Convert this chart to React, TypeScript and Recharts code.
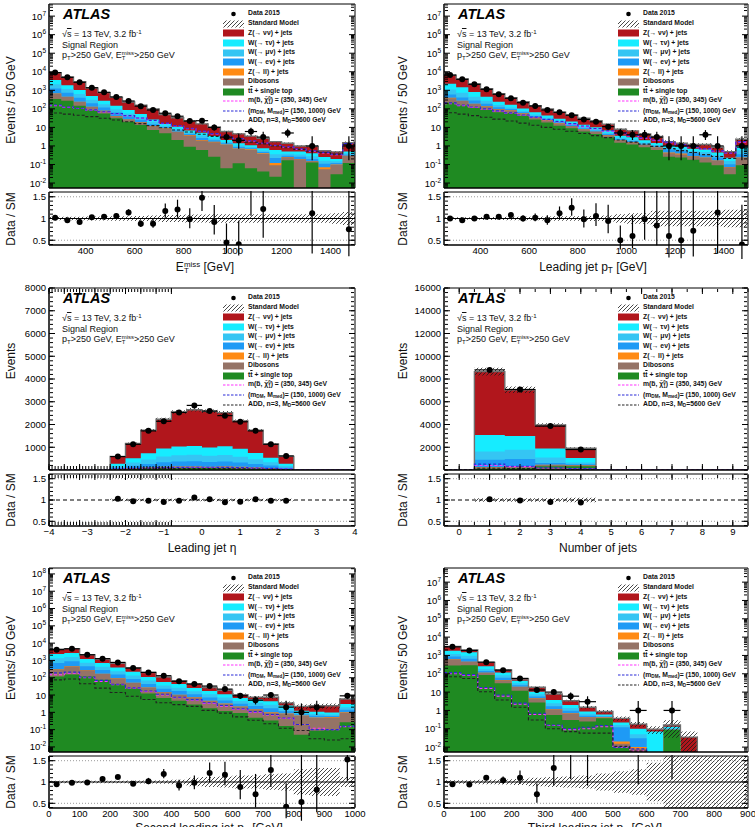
import React from "react";
import { ComposedChart, Area, Line, Scatter, XAxis, YAxis, ErrorBar, ReferenceLine } from "recharts";

const FONT = '"Liberation Sans", Arial, Helvetica, sans-serif';
const Y_W = 48;

const COL_TOP = "#1f8a22";
const COL_DIB = "#957366";
const COL_ZLL = "#ff8a14";
const COL_WEV = "#1e9af5";
const COL_WMV = "#35c5f3";
const COL_WTV = "#16ecff";
const COL_ZVV = "#b1161c";
const STACK_COLORS = [COL_TOP, COL_DIB, COL_ZLL, COL_WEV, COL_WMV, COL_WTV, COL_ZVV];
const SIG_COLORS = ["#ff33ff", "#2a2ad8", "#222222"];

// ---------- E_T^miss ----------
const metEdges = [250, 300, 350, 400, 450, 500, 550, 600, 650, 700, 750, 800, 850, 900, 950, 1000, 1050, 1100, 1150, 1200, 1250, 1300, 1350, 1400, 1450, 1500];
const metCounts = [9000, 5000, 2700, 1380, 780, 440, 265, 140, 87, 58, 40, 22, 23, 10, 3, 2, 6, 3, 0, 5, 0, 1, 0, 0, 1];
const metRatio = [1.02, 0.96, 0.92, 1.03, 1.04, 1.06, 1.14, 0.88, 0.88, 1.17, 1.21, 0.98, 1.48, 0.92, 0.45, 0.41, 1.76, 1.22, null, 3.6, null, 1.12, null, null, 0.75];
const metBand = [0.04, 0.04, 0.04, 0.045, 0.045, 0.05, 0.05, 0.06, 0.07, 0.08, 0.08, 0.09, 0.09, 0.1, 0.1, 0.1, 0.1, 0.1, 0.1, 0.1, 0.1, 0.1, 0.1, 0.12, 0.15];
const metTop = [340, 275, 149, 85, 57, 31, 20, 13.4, 7.3, 4.8, 2.1, 0.9, 0.6, 0.26, 0.063, 0.115, 0.063, 0.042, 0.022, 0.17, 0, 0.13, 0, 0.03, 0.12];
const metDib = [313, 166, 88, 42, 21, 9.2, 6.4, 5.6, 4.1, 3.8, 3.5, 2.76, 1.38, 1.32, 1.05, 0.57, 0.55, 0.33, 0.07, 0.074, 0.19, 0.018, 0.055, 0.065, 0.17];
const metZll = [27, 14, 8, 4, 2, 0.8, 0.6, 0.5, 0.4, 0.33, 0.3, 0.24, 0.12, 0.12, 0.09, 0.05, 0.05, 0.03, 0.03, 0.006, 0.01, 0.002, 0.015, 0.005, 0.01];
const metWev = [574, 289, 157, 72, 39, 22, 12, 6.7, 3.0, 1.3, 1.0, 0.56, 0.62, 0.34, 0.18, 0.13, 0.09, 0.07, 0.1, 0.05, 0.06, 0.05, 0.04, 0.02, 0.04];
const metWmv = [861, 433, 236, 108, 58, 32, 18, 10, 4.6, 1.9, 1.5, 0.84, 0.93, 0.51, 0.27, 0.2, 0.13, 0.1, 0.14, 0.08, 0.09, 0.08, 0.05, 0.03, 0.06];
const metWtv = [1435, 722, 392, 180, 98, 54, 30, 16.8, 7.6, 3.2, 2.5, 1.4, 1.55, 0.85, 0.45, 0.33, 0.22, 0.17, 0.24, 0.12, 0.15, 0.12, 0.09, 0.05, 0.1];
const metZvv = [5250, 3300, 1870, 850, 475, 266, 145, 106, 72, 34.7, 22.1, 15.7, 10.3, 7.0, 3.9, 3.1, 2.3, 1.86, 1.1, 0.9, 0.5, 0.55, 0.3, 0.28, 1.0];
const metSbottom = [150, 120, 105, 85, 68, 55, 42, 31, 23, 16, 12, 8.5, 6, 4.4, 3.2, 2.4, 1.8, 1.4, 1.05, 0.85, 0.65, 0.52, 0.42, 0.34, 1.3];
const metDM = [160, 125, 108, 88, 70, 56, 43, 32, 24, 17, 12.5, 9, 6.3, 4.6, 3.3, 2.5, 1.9, 1.45, 1.1, 0.9, 0.7, 0.55, 0.45, 0.36, 1.35];
const metADD = [60, 52, 45, 38, 31, 25, 20, 16, 12.5, 9.5, 7.3, 5.6, 4.3, 3.3, 2.6, 2.0, 1.6, 1.3, 1.0, 0.8, 0.65, 0.52, 0.43, 0.36, 1.2];

// ---------- leading jet pT ----------
const ptEdges = [250, 300, 350, 400, 450, 500, 550, 600, 650, 700, 750, 800, 850, 900, 950, 1000, 1050, 1100, 1150, 1200, 1250, 1300, 1350, 1400, 1450, 1500];
const ptCounts = [6600, 3900, 2100, 1130, 610, 370, 215, 142, 87, 65, 45, 27, 20, 11, 5, 4, 4, 3, 1, 1, 1, 4, 1, 0, 1];
const ptRatio = [1.0, 0.96, 1.0, 1.04, 1.04, 1.08, 1.0, 1.02, 0.96, 1.12, 1.25, 0.98, 1.06, 0.94, 0.5, 0.6, 0.98, 0.84, 0.6, 0.5, 0.72, 3.3, 1.14, null, 0.4];
const ptBand = [0.03, 0.03, 0.03, 0.035, 0.035, 0.04, 0.04, 0.04, 0.045, 0.05, 0.05, 0.05, 0.06, 0.07, 0.1, 0.12, 0.12, 0.18, 0.18, 0.18, 0.18, 0.18, 0.18, 0.2, 0.2];
const ptTop = [211, 151, 110, 86, 66, 60, 42, 27, 18.6, 12.4, 9, 6, 4.4, 2.9, 1.5, 1.2, 0.84, 0.6, 0.26, 0.24, 0.18, 0.13, 0.09, 0.03, 0.09];
const ptDib = [165, 114, 70, 47, 30, 22, 14, 9, 6, 4, 2.8, 1.9, 1.4, 0.9, 0.5, 0.4, 0.3, 0.22, 0.14, 0.11, 0.1, 0.1, 0.07, 0.04, 0.14];
const ptZll = [20, 12, 8, 5, 3, 2, 1.2, 0.7, 0.5, 0.3, 0.2, 0.15, 0.1, 0.07, 0.04, 0.03, 0.02, 0.015, 0.05, 0.04, 0.01, 0.01, 0.005, 0.003, 0.01];
const ptWev = [205, 134, 92, 50, 23, 13, 7.8, 4.6, 3.0, 2.0, 1.4, 0.95, 0.7, 0.48, 0.25, 0.21, 0.14, 0.105, 0.2, 0.17, 0.13, 0.11, 0.07, 0.03, 0.12];
const ptWmv = [508, 326, 170, 87, 41, 23, 13.5, 8.2, 5.4, 3.5, 2.6, 1.7, 1.3, 0.8, 0.45, 0.36, 0.24, 0.17, 0.17, 0.14, 0.12, 0.12, 0.085, 0.05, 0.23];
const ptWtv = [1168, 724, 350, 175, 82, 45, 26.5, 15.5, 10.5, 6.8, 5, 3.3, 2.4, 1.55, 0.86, 0.7, 0.46, 0.34, 0.24, 0.2, 0.17, 0.17, 0.12, 0.08, 0.39];
const ptZvv = [4323, 2609, 1400, 780, 415, 235, 140, 83, 54, 36, 26, 17, 12.7, 8.3, 4.3, 3.6, 2.4, 1.75, 0.64, 0.5, 0.49, 0.56, 0.41, 0.26, 1.32];
const ptSbottom = [190, 150, 118, 95, 75, 58, 45, 34, 26, 20, 15, 11, 8.3, 6.2, 4.6, 3.5, 2.6, 2.0, 1.5, 1.15, 0.88, 0.68, 0.52, 0.4, 1.6];
const ptDM = [210, 160, 125, 100, 78, 61, 47, 36, 27, 21, 16, 12, 8.8, 6.6, 4.9, 3.7, 2.8, 2.1, 1.6, 1.2, 0.92, 0.7, 0.54, 0.42, 1.7];
const ptADD = [62, 52, 43, 35, 28, 22, 17, 13, 10, 8, 6.2, 4.7, 3.6, 2.8, 2.1, 1.6, 1.25, 0.95, 0.72, 0.56, 0.44, 0.34, 0.27, 0.21, 0.85];

// ---------- leading jet eta ----------
const etaEdges = [-4, -3.6, -3.2, -2.8, -2.4, -2, -1.6, -1.2, -0.8, -0.4, 0, 0.4, 0.8, 1.2, 1.6, 2, 2.4, 2.8, 3.2, 3.6, 4];
const etaCounts = [0, 0, 0, 0, 590, 1130, 1720, 2140, 2530, 2840, 2590, 2390, 2120, 1720, 1130, 620, 0, 0, 0, 0];
const etaRatio = [null, null, null, null, 1.03, 0.97, 0.985, 0.955, 0.98, 1.06, 1.015, 0.95, 0.96, 1.015, 0.985, 0.985, null, null, null, null];
const etaBand = [0, 0, 0, 0, 0.03, 0.03, 0.03, 0.03, 0.03, 0.03, 0.03, 0.03, 0.03, 0.03, 0.03, 0.03, 0, 0, 0, 0];
const etaTop = [0, 0, 0, 0, 23, 45, 63, 80, 88, 90, 84, 89, 79, 63, 46, 23, 0, 0, 0, 0];
const etaDib = [0, 0, 0, 0, 14, 26, 37, 47, 52, 53, 49, 52, 47, 38, 27, 14, 0, 0, 0, 0];
const etaZll = [0, 0, 0, 0, 4, 8, 11, 14, 15, 16, 15, 16, 14, 11, 8, 4, 0, 0, 0, 0];
const etaWev = [0, 0, 0, 0, 58, 109, 155, 197, 216, 223, 207, 219, 195, 157, 112, 58, 0, 0, 0, 0];
const etaWmv = [0, 0, 0, 0, 74, 140, 200, 254, 278, 286, 266, 282, 251, 203, 144, 74, 0, 0, 0, 0];
const etaWtv = [0, 0, 0, 0, 102, 192, 274, 348, 381, 392, 364, 387, 344, 278, 198, 102, 0, 0, 0, 0];
const etaZvv = [0, 0, 0, 0, 325, 650, 1010, 1290, 1520, 1590, 1595, 1475, 1230, 1000, 610, 325, 0, 0, 0, 0];
const etaSbottom = [0, 0, 0, 0, 40, 60, 80, 95, 105, 110, 110, 105, 95, 80, 60, 40, 0, 0, 0, 0];
const etaDM = [0, 0, 0, 0, 45, 70, 90, 105, 115, 120, 120, 115, 105, 90, 70, 45, 0, 0, 0, 0];
const etaADD = [0, 0, 0, 0, 25, 35, 45, 55, 60, 62, 62, 60, 55, 45, 35, 25, 0, 0, 0, 0];

// ---------- number of jets ----------
const njEdges = [-0.5, 0.5, 1.5, 2.5, 3.5, 4.5, 5.5, 6.5, 7.5, 8.5, 9.5];
const njCounts = [0, 8800, 7080, 3860, 1800, 0, 0, 0, 0, 0];
const njRatio = [null, 1.02, 0.99, 0.955, 0.94, null, null, null, null, null];
const njBand = [0, 0.04, 0.04, 0.04, 0.05, 0, 0, 0, 0, 0];
const njTop = [0, 120, 160, 330, 330, 0, 0, 0, 0, 0];
const njDib = [0, 100, 120, 110, 80, 0, 0, 0, 0, 0];
const njZll = [0, 30, 30, 15, 15, 0, 0, 0, 0, 0];
const njWev = [0, 650, 648, 155, 75, 0, 0, 0, 0, 0];
const njWmv = [0, 725, 812, 490, 170, 0, 0, 0, 0, 0];
const njWtv = [0, 1455, 1220, 790, 375, 0, 0, 0, 0, 0];
const njZvv = [0, 5570, 4060, 2060, 870, 0, 0, 0, 0, 0];
const njSbottom = [0, 400, 300, 150, 80, 0, 0, 0, 0, 0];
const njDM = [0, 520, 330, 200, 120, 0, 0, 0, 0, 0];
const njADD = [0, 150, 120, 70, 40, 0, 0, 0, 0, 0];

// ---------- second leading jet pT ----------
const j2Edges = [0, 50, 100, 150, 200, 250, 300, 350, 400, 450, 500, 550, 600, 650, 700, 750, 800, 850, 900, 950, 1000];
const j2Counts = [4200, 4700, 2130, 1270, 770, 360, 204, 131, 62, 43, 33, 22, 9, 5, 10, 2, 1, 2, 0, 9];
const j2Ratio = [0.95, 0.98, 0.99, 1.07, 1.12, 0.96, 1.02, 1.19, 0.92, 0.98, 1.21, 1.17, 0.88, 0.71, 1.28, 0.42, 0.53, 0.82, null, 1.53];
const j2Band = [0.03, 0.03, 0.03, 0.03, 0.03, 0.035, 0.035, 0.04, 0.05, 0.1, 0.12, 0.13, 0.15, 0.15, 0.18, 0.2, 0.3, 0.33, 0.33, 0.12];
const j2Top = [117, 152, 116, 76, 44, 24, 12.3, 6.8, 4.7, 2.8, 1.7, 1.2, 0.92, 0.49, 0.34, 0.16, 0.05, 0.086, 0.1, 0.27];
const j2Dib = [180, 290, 154, 87, 47, 25.4, 13.8, 7.7, 5.45, 4.4, 2.73, 1.88, 1.2, 0.95, 0.62, 0.65, 0.57, 0.39, 0.4, 0.69];
const j2Zll = [11, 19, 10, 6, 3, 1.6, 0.9, 0.5, 0.35, 0.3, 0.17, 0.12, 0.08, 0.06, 0.04, 0.04, 0.04, 0.03, 0.03, 0.04];
const j2Wev = [411, 448, 186, 107, 59, 33, 17, 8.4, 6.5, 3.7, 2.6, 1.6, 0.9, 0.82, 0.7, 0.32, 0.12, 0.12, 0.09, 0.4];
const j2Wmv = [618, 671, 278, 159, 88, 51, 26, 12.6, 9.8, 5.5, 3.8, 2.4, 1.35, 1.23, 1.0, 0.48, 0.17, 0.17, 0.14, 0.6];
const j2Wtv = [1030, 1118, 464, 265, 147, 85, 42, 21, 16.2, 9.2, 6.3, 4.0, 2.25, 2.05, 1.7, 0.8, 0.29, 0.28, 0.23, 1.0];
const j2Zvv = [2033, 2102, 942, 490, 302, 155, 88, 53, 24, 18.1, 9.7, 7.8, 3.8, 2.0, 3.1, 1.05, 0.96, 1.32, 1.41, 2.9];
const j2Sbottom = [150, 180, 100, 62, 40, 25, 16, 10, 7, 5, 3.3, 2.3, 1.5, 1.0, 0.7, 0.45, 0.2, 0.12, 0.1, 0.15];
const j2DM = [190, 210, 110, 70, 42, 26, 17, 11, 7.5, 5.4, 3.6, 2.5, 1.6, 1.1, 0.75, 0.47, 0.2, 0.1, 0.1, 0.16];
const j2ADD = [75, 85, 45, 25, 14, 8.5, 5.5, 3.6, 2.8, 2.2, 1.3, 0.9, 0.55, 0.35, 0.22, 0.12, 0.09, 0.03, 0.025, 0.03];

// ---------- third leading jet pT ----------
const j3Edges = [0, 50, 100, 150, 200, 250, 300, 350, 400, 450, 500, 550, 600, 650, 700, 750, 800, 850, 900];
const j3Counts = [2950, 1870, 430, 158, 56, 13, 10, 6, 3, 0, 0, 1, 0, 1, 0, 0, 0, 0];
const j3Ratio = [0.95, 0.94, 1.1, 1.04, 1.1, 0.71, 1.33, 1.76, 2.0, null, null, 5.5, null, 6.2, null, null, null, null];
const j3Band = [0.04, 0.04, 0.05, 0.06, 0.07, 0.1, 0.12, 0.13, 0.15, 0.2, 0.25, 0.3, 0.45, 0.8, 1, 1, 1, 1];
const j3Top = [280, 295, 85, 30, 12, 2.7, 0.57, 0.3, 0.25, 0.37, 0.01, 0.005, 0, 0.087, 0, 0, 0, 0];
const j3Dib = [330, 155, 28, 15, 7.2, 1.8, 0.55, 0.37, 0.17, 0.045, 0.005, 0.003, 0, 0, 0, 0, 0, 0];
const j3Zll = [20, 10, 2, 1, 0.5, 0.1, 0.04, 0.03, 0.01, 0.005, 0.005, 0.002, 0, 0, 0, 0, 0, 0];
const j3Wev = [235, 205, 28, 15, 4.3, 1.2, 0.51, 0.26, 0.09, 0.04, 0.1, 0.02, 0, 0.008, 0, 0, 0, 0];
const j3Wmv = [350, 310, 42, 21, 6.5, 1.8, 0.76, 0.39, 0.13, 0.05, 0.04, 0.02, 0, 0.015, 0, 0, 0, 0];
const j3Wtv = [585, 515, 70, 35, 11, 3, 1.27, 0.65, 0.22, 0.09, 0.06, 0.05, 0.07, 0.02, 0, 0, 0, 0];
const j3Zvv = [1300, 500, 165, 43, 10.5, 7.7, 4.2, 1.4, 0.63, 0.27, 0.15, 0.08, 0.025, 0.03, 0.035, 0, 0, 0];
const j3Sbottom = [100, 80, 16, 6, 2.2, 0.6, 0.15, 0.09, 0.1, 0.13, 0.01, 0.006, 0, 0, 0, 0, 0, 0];
const j3DM = [115, 90, 18, 7, 2.5, 0.7, 0.16, 0.1, 0.12, 0.15, 0.01, 0.008, 0, 0, 0, 0, 0, 0];
const j3ADD = [69, 55, 10.5, 3.7, 1.5, 0.3, 0.1, 0.07, 0.058, 0.058, 0.011, 0.006, 0, 0, 0, 0, 0, 0];

// ---------- axis ticks ----------
const LOG_TICKS_7 = [0.01, 0.1, 1, 10, 100, 1e3, 1e4, 1e5, 1e6, 1e7];
const LOG_TICKS_8 = [0.01, 0.1, 1, 10, 100, 1e3, 1e4, 1e5, 1e6, 1e7, 1e8];
const RATIO_TICKS = [0.5, 1, 1.5];
const ETA_Y_TICKS = [1000, 2000, 3000, 4000, 5000, 6000, 7000, 8000];
const NJ_Y_TICKS = [2000, 4000, 6000, 8000, 10000, 12000, 14000, 16000];
const PT_X_TICKS = [400, 600, 800, 1000, 1200, 1400];
const ETA_X_TICKS = [-4, -3, -2, -1, 0, 1, 2, 3, 4];
const NJ_X_TICKS = [0, 1, 2, 3, 4, 5, 6, 7, 8, 9];
const J2_X_TICKS = [0, 100, 200, 300, 400, 500, 600, 700, 800, 900, 1000];
const J3_X_TICKS = [0, 100, 200, 300, 400, 500, 600, 700, 800, 900];
const RATIO_DOMAIN: [number, number] = [0.39, 1.61];

const logMinor = (lo: number, hi: number) => {
  const t: number[] = [];
  for (let e = -3; e <= 8; e++) for (let k = 2; k <= 9; k++) {
    const v = k * Math.pow(10, e);
    if (v > lo && v < hi) t.push(v);
  }
  return t;
};
const linMinor = (a: number, b: number, step: number) => {
  const t: number[] = [];
  const n = Math.round((b - a) / step);
  for (let i = 0; i <= n; i++) t.push(Math.round((a + i * step) * 1e6) / 1e6);
  return t;
};

const poisLo = (n: number) => n * Math.pow(1 - 1 / (9 * n) - 1 / (3 * Math.sqrt(n)), 3);
const poisHi = (n: number) => (n + 1) * Math.pow(1 - 1 / (9 * (n + 1)) + 1 / (3 * Math.sqrt(n + 1)), 3);

const Sub = ({ children }: any) => <span style={{ fontSize: "0.68em", verticalAlign: "-0.3em", lineHeight: 0 }}>{children}</span>;
const Sup = ({ children }: any) => <span style={{ fontSize: "0.68em", verticalAlign: "0.55em", lineHeight: 0 }}>{children}</span>;
const SubSup = ({ sup, sub }: any) => (
  <span style={{ display: "inline-block", verticalAlign: "-0.3em", fontSize: "0.66em", lineHeight: 0.85 }}>
    <span style={{ display: "block" }}>{sup}</span>
    <span style={{ display: "block" }}>{sub}</span>
  </span>
);
const Etmiss = () => <>E<SubSup sup="miss" sub="T" /></>;

type Spec = {
  key: string;
  left: number;
  plotW: number;
  mainTop: number;
  mainH: number;
  ratioTop: number;
  ratioH: number;
  legendX: number;
  edges: number[];
  stack: number[][];
  counts: number[];
  ratio: (number | null)[];
  band: number[];
  signals: number[][];
  log: boolean;
  yDomain: [number, number];
  yTicks: number[];
  yMinor: number[];
  xDomain: [number, number];
  xTicks: number[];
  xMinor: number[];
  xShift: number; // internal offset so the plotted x axis starts at a non-negative value
  xTitle: React.ReactNode;
  xTitleX: number;
  xTitleY: number;
  yTitle: string;
  yTitleX: number;
  yTitleY: number;
  ratioTitleY: number;
  dashedOne: boolean;
};

const LogTick = (p: any) => {
  const v = p.payload.value;
  const e = Math.round(Math.log10(v));
  const common: any = { x: p.x, y: p.y, dy: 3.5, textAnchor: "end", fontSize: 9.5, fontFamily: FONT, fill: "#000" };
  if (e === 0) return <text {...common}>1</text>;
  if (e === 1) return <text {...common}>10</text>;
  return (
    <text {...common}>
      10<tspan dy={-4} fontSize={6.5}>{String(e)}</tspan>
    </text>
  );
};

const sh = (arr: number[], d: number) => arr.map((v) => Math.round((v + d) * 1e6) / 1e6);
const xLabel = (d: number) => (v: number) => {
  const r = Math.round((v - d) * 1000) / 1000;
  return r < 0 ? "\u2212" + String(-r) : String(r);
};

// inward tick marks on all four sides of a frame (major + minor), drawn with mirrored axes
function frameAxes(xDomain: [number, number], xTicks: number[], xMinor: number[], yDomain: [number, number], yTicks: number[], yMinor: number[], log: boolean) {
  const base: any = { type: "number", allowDataOverflow: true, interval: 0, tickFormatter: () => "", mirror: true, stroke: "#000" };
  const sc = log ? "log" : "linear";
  return [
    <XAxis key="xb1" xAxisId="xb1" orientation="bottom" height={1} domain={xDomain} ticks={xTicks} tickSize={6} {...base} />,
    <XAxis key="xb2" xAxisId="xb2" orientation="bottom" height={1} domain={xDomain} ticks={xMinor} tickSize={3} axisLine={false} {...base} />,
    <XAxis key="xt1" xAxisId="xt1" orientation="top" height={1} domain={xDomain} ticks={xTicks} tickSize={6} {...base} />,
    <XAxis key="xt2" xAxisId="xt2" orientation="top" height={1} domain={xDomain} ticks={xMinor} tickSize={3} axisLine={false} {...base} />,
    <YAxis key="yl1" yAxisId="yl1" orientation="left" width={1} scale={sc} domain={yDomain} ticks={yTicks} tickSize={6} {...base} />,
    <YAxis key="yl2" yAxisId="yl2" orientation="left" width={1} scale={sc} domain={yDomain} ticks={yMinor} tickSize={3} axisLine={false} {...base} />,
    <YAxis key="yr1" yAxisId="yr1" orientation="right" width={1} scale={sc} domain={yDomain} ticks={yTicks} tickSize={6} {...base} />,
    <YAxis key="yr2" yAxisId="yr2" orientation="right" width={1} scale={sc} domain={yDomain} ticks={yMinor} tickSize={3} axisLine={false} {...base} />,
  ];
}

const hatchDef = (id: string) => (
  <pattern id={id} width={4} height={4} patternUnits="userSpaceOnUse">
    <path d="M-1,1 l2,-2 M0,4 l4,-4 M3,5 l2,-2" stroke="#1a1a1a" strokeWidth={0.8} />
  </pattern>
);

const Dot = (p: any) => <circle cx={p.cx} cy={p.cy} r={3} fill="#000" />;

function pointsFor(edges: number[], counts: number[]) {
  const out: any[] = [];
  counts.forEach((n, i) => {
    if (!n) return;
    out.push({ x: (edges[i] + edges[i + 1]) / 2, y: n, ex: (edges[i + 1] - edges[i]) / 2, ey: [n - poisLo(n), poisHi(n) - n] });
  });
  return out;
}

function ratioPointsFor(edges: number[], counts: number[], ratio: (number | null)[]) {
  const out: any[] = [];
  ratio.forEach((r, i) => {
    const n = counts[i];
    if (r == null || !n) return;
    out.push({ x: (edges[i] + edges[i + 1]) / 2, y: r, ex: (edges[i + 1] - edges[i]) / 2, ey: [r * (1 - poisLo(n) / n), r * (poisHi(n) / n - 1)] });
  });
  return out;
}

const M_TOP = 6;
const M_RIGHT = 14;

function xGeom(s: Spec) {
  const d = s.xShift;
  return {
    edges: sh(s.edges, d),
    domain: [s.xDomain[0] + d, s.xDomain[1] + d] as [number, number],
    ticks: sh(s.xTicks, d),
    minor: sh(s.xMinor, d),
  };
}

function MainChart({ s }: { s: Spec }) {
  const g = xGeom(s);
  const floor = s.log ? 1e-4 : 0;
  const nb = g.edges.length - 1;
  const rows = g.edges.map((x, i) => {
    const b = Math.min(i, nb - 1);
    const row: any = { x };
    let cum = 0;
    s.stack.forEach((arr, k) => {
      cum += arr[b];
      row["s" + k] = Math.max(cum, floor);
    });
    row.tot = Math.max(cum, floor);
    row.band = [Math.max(cum * (1 - s.band[b]), floor), Math.max(cum * (1 + s.band[b]), floor)];
    s.signals.forEach((arr, k) => {
      row["g" + k] = Math.max(arr[b], floor);
    });
    return row;
  });
  const pts = pointsFor(g.edges, s.counts);
  const hid = "hm-" + s.key;
  const order = [6, 5, 4, 3, 2, 1, 0];
  return (
    <div style={{ position: "absolute", left: s.left - Y_W, top: s.mainTop - M_TOP }}>
      <ComposedChart width={Y_W + s.plotW + M_RIGHT} height={s.mainH + M_TOP + 2} data={rows} margin={{ top: M_TOP, right: M_RIGHT, bottom: 1, left: 0 }}>
        <defs>{hatchDef(hid)}</defs>
        <XAxis xAxisId="x" dataKey="x" type="number" domain={g.domain} allowDataOverflow ticks={g.ticks} interval={0} height={1} tickLine={false} tickFormatter={() => ""} stroke="#000" />
        <YAxis
          yAxisId="y"
          type="number"
          scale={s.log ? "log" : "linear"}
          domain={s.yDomain}
          allowDataOverflow
          ticks={s.yTicks}
          interval={0}
          width={Y_W}
          tickLine={false}
          tickSize={0}
          tickMargin={3}
          stroke="#000"
          tick={s.log ? LogTick : { fontSize: 9.5, fill: "#000", fontFamily: FONT }}
        />
        {frameAxes(g.domain, g.ticks, g.minor, s.yDomain, s.yTicks, s.yMinor, s.log)}
        {order.map((k) => (
          <Area
            key={"s" + k}
            xAxisId="x"
            yAxisId="y"
            dataKey={"s" + k}
            type="stepAfter"
            baseValue={s.log ? s.yDomain[0] : 0}
            fill={STACK_COLORS[k]}
            fillOpacity={1}
            stroke="none"
            isAnimationActive={false}
            activeDot={false}
          />
        ))}
        <Line xAxisId="x" yAxisId="y" dataKey="tot" type="stepAfter" stroke="#6f6f6f" strokeWidth={1.4} dot={false} activeDot={false} isAnimationActive={false} />
        <Area xAxisId="x" yAxisId="y" dataKey="band" type="stepAfter" fill={`url(#${hid})`} fillOpacity={1} stroke="none" isAnimationActive={false} activeDot={false} />
        {s.signals.map((_, k) => (
          <Line
            key={"g" + k}
            xAxisId="x"
            yAxisId="y"
            dataKey={"g" + k}
            type="stepAfter"
            stroke={SIG_COLORS[k]}
            strokeWidth={1.1}
            strokeDasharray="3 2"
            dot={false}
            activeDot={false}
            isAnimationActive={false}
          />
        ))}
        <Scatter xAxisId="x" yAxisId="y" data={pts} dataKey="y" shape={Dot} isAnimationActive={false}>
          <ErrorBar dataKey="ey" direction="y" width={0} stroke="#000" strokeWidth={1.2} />
          <ErrorBar dataKey="ex" direction="x" width={0} stroke="#000" strokeWidth={1.2} />
        </Scatter>
      </ComposedChart>
    </div>
  );
}

function RatioChart({ s }: { s: Spec }) {
  const g = xGeom(s);
  const nb = g.edges.length - 1;
  const rows = g.edges.map((x, i) => {
    const b = Math.min(i, nb - 1);
    return { x, band: [1 - s.band[b], 1 + s.band[b]] };
  });
  const pts = ratioPointsFor(g.edges, s.counts, s.ratio);
  const hid = "hr-" + s.key;
  const rMinor = linMinor(0.4, 1.6, 0.1);
  return (
    <div style={{ position: "absolute", left: s.left - Y_W, top: s.ratioTop - 1 }}>
      <ComposedChart width={Y_W + s.plotW + M_RIGHT} height={s.ratioH + 22} data={rows} margin={{ top: 1, right: M_RIGHT, bottom: 1, left: 0 }}>
        <defs>{hatchDef(hid)}</defs>
        <XAxis
          xAxisId="x"
          dataKey="x"
          type="number"
          domain={g.domain}
          allowDataOverflow
          ticks={g.ticks}
          interval={0}
          height={20}
          tickLine={false}
          tickSize={0}
          tickMargin={2}
          stroke="#000"
          tickFormatter={xLabel(s.xShift)}
          tick={{ fontSize: 9.5, fill: "#000", fontFamily: FONT }}
        />
        <YAxis
          yAxisId="y"
          type="number"
          domain={RATIO_DOMAIN}
          allowDataOverflow
          ticks={RATIO_TICKS}
          interval={0}
          width={Y_W}
          tickLine={false}
          tickSize={0}
          tickMargin={3}
          stroke="#000"
          tick={{ fontSize: 9.5, fill: "#000", fontFamily: FONT }}
        />
        {frameAxes(g.domain, g.ticks, g.minor, RATIO_DOMAIN, RATIO_TICKS, rMinor, false)}
        <ReferenceLine xAxisId="x" yAxisId="y" y={0.5} stroke="#9a9a9a" strokeDasharray="1 2" />
        <ReferenceLine xAxisId="x" yAxisId="y" y={1.5} stroke="#9a9a9a" strokeDasharray="1 2" />
        <Area xAxisId="x" yAxisId="y" dataKey="band" type="stepAfter" fill={`url(#${hid})`} fillOpacity={1} stroke="none" isAnimationActive={false} activeDot={false} />
        <ReferenceLine xAxisId="x" yAxisId="y" y={1} stroke="#000" strokeWidth={1} strokeDasharray={s.dashedOne ? "4 3" : undefined} />
        <Scatter xAxisId="x" yAxisId="y" data={pts} dataKey="y" shape={Dot} isAnimationActive={false}>
          <ErrorBar dataKey="ey" direction="y" width={0} stroke="#000" strokeWidth={1.2} />
        </Scatter>
      </ComposedChart>
    </div>
  );
}

const Txt = ({ x, y, size, children, bold, italic, center, color = "#111" }: any) => (
  <div
    style={{
      position: "absolute",
      left: x,
      top: y - size * 0.5,
      fontSize: size,
      lineHeight: 1,
      fontFamily: FONT,
      fontWeight: bold ? 700 : 400,
      fontStyle: italic ? "italic" : "normal",
      whiteSpace: "nowrap",
      color,
      transform: center ? "translateX(-50%)" : undefined,
    }}
  >
    {children}
  </div>
);

const VTxt = ({ x, y, size, children }: any) => (
  <div
    style={{
      position: "absolute",
      left: x,
      top: y,
      fontSize: size,
      lineHeight: 1,
      fontFamily: FONT,
      whiteSpace: "nowrap",
      color: "#111",
      transform: "translate(-50%, -50%) rotate(-90deg)",
    }}
  >
    {children}
  </div>
);

const LEGEND_ITEMS: any[] = [
  { kind: "data", label: "Data 2015" },
  { kind: "sm", label: "Standard Model" },
  { kind: "fill", color: COL_ZVV, label: "Z(\u2192  \u03bd\u03bd) + jets" },
  { kind: "fill", color: COL_WTV, label: "W(\u2192  \u03c4\u03bd) + jets" },
  { kind: "fill", color: COL_WMV, label: "W(\u2192  \u03bc\u03bd) + jets" },
  { kind: "fill", color: COL_WEV, label: "W(\u2192 e\u03bd) + jets" },
  { kind: "fill", color: COL_ZLL, label: "Z(\u2192 ll) + jets" },
  { kind: "fill", color: COL_DIB, label: "Dibosons" },
  { kind: "fill", color: COL_TOP, label: <>t<span style={{ textDecoration: "overline" }}>t</span> + single top</> },
  { kind: "line", color: SIG_COLORS[0], label: <>m(b{"\u0303"}, {"\u03c7\u0303"}<SubSup sup="0" sub="1" />) = (350, 345) GeV</> },
  { kind: "line", color: SIG_COLORS[1], label: <>(m<Sub>DM</Sub>, M<Sub>med</Sub>)= (150, 1000) GeV</> },
  { kind: "line", color: SIG_COLORS[2], label: <>ADD, n=3, M<Sub>D</Sub>=5600 GeV</> },
];

function LegendBox({ s }: { s: Spec }) {
  const pid = "lh-" + s.key;
  const y0 = s.mainTop + 9.8;
  return (
    <>
      {LEGEND_ITEMS.map((it, i) => (
        <div key={i} style={{ position: "absolute", left: s.legendX, top: y0 + i * 9.72 - 4, height: 8, display: "flex", alignItems: "center" }}>
          <svg width={21} height={8} style={{ display: "block" }}>
            {it.kind === "data" && <circle cx={10.5} cy={4} r={2.3} fill="#000" />}
            {it.kind === "sm" && (
              <>
                <defs>{hatchDef(pid)}</defs>
                <rect x={0} y={0.5} width={21} height={7} fill={`url(#${pid})`} />
              </>
            )}
            {it.kind === "fill" && <rect x={0} y={0.5} width={21} height={7} fill={it.color} />}
            {it.kind === "line" && <line x1={0} x2={21} y1={4} y2={4} stroke={it.color} strokeWidth={1.1} strokeDasharray="2.5 1.5" />}
          </svg>
          <span style={{ marginLeft: 4, fontSize: 6.8, fontWeight: 700, fontFamily: FONT, lineHeight: 1, whiteSpace: "nowrap", color: "#111" }}>{it.label}</span>
        </div>
      ))}
    </>
  );
}

function PanelText({ s }: { s: Spec }) {
  const x0 = s.left + 13;
  return (
    <>
      <Txt x={s.left + 14} y={s.mainTop + 10.5} size={14.5} bold italic color="#000">ATLAS</Txt>
      <Txt x={x0} y={s.mainTop + 30.5} size={9}>
        {"\u221a"}<span style={{ textDecoration: "overline" }}>s</span> = 13 TeV, 3.2 fb<Sup>-1</Sup>
      </Txt>
      <Txt x={x0} y={s.mainTop + 41} size={9}>Signal Region</Txt>
      <Txt x={x0} y={s.mainTop + 51.5} size={9}>
        p<Sub>T</Sub>&gt;250 GeV, <Etmiss />&gt;250 GeV
      </Txt>
      <Txt x={s.xTitleX} y={s.xTitleY} size={12} center>{s.xTitle}</Txt>
      <VTxt x={s.yTitleX} y={s.yTitleY} size={12}>{s.yTitle}</VTxt>
      <VTxt x={s.yTitleX} y={s.ratioTitleY} size={12}>Data / SM</VTxt>
    </>
  );
}

function Panel({ s }: { s: Spec }) {
  return (
    <>
      <MainChart s={s} />
      <RatioChart s={s} />
      <PanelText s={s} />
      <LegendBox s={s} />
    </>
  );
}

const ROW1 = { mainTop: 4, mainH: 184, ratioTop: 192, ratioH: 53, xTitleY: 267, yTitleY: 100, ratioTitleY: 219 };
const ROW2 = { mainTop: 288, mainH: 182, ratioTop: 474, ratioH: 52, xTitleY: 548, yTitleY: 361, ratioTitleY: 500 };
const ROW3 = { mainTop: 568, mainH: 184, ratioTop: 756, ratioH: 52, xTitleY: 827.5, yTitleY: 658, ratioTitleY: 782 };
const COLL = { left: 49, plotW: 306, legendX: 223, yTitleX: 11 };
const COLR = { left: 444, plotW: 304, legendX: 618, yTitleX: 403 };

const LOGDOM_12: [number, number] = [0.0054, 4.5e7];
const LOGDOM_5: [number, number] = [0.0051, 2.2e8];
const LOGDOM_6: [number, number] = [0.0054, 5.9e7];

const PANELS: Spec[] = [
  {
    key: "met", ...ROW1, ...COLL,
    edges: metEdges, stack: [metTop, metDib, metZll, metWev, metWmv, metWtv, metZvv], counts: metCounts, ratio: metRatio, band: metBand,
    signals: [metSbottom, metDM, metADD], log: true, yDomain: LOGDOM_12, yTicks: LOG_TICKS_7, yMinor: logMinor(LOGDOM_12[0], LOGDOM_12[1]),
    xDomain: [250, 1500], xTicks: PT_X_TICKS, xMinor: linMinor(280, 1480, 40), xShift: 0,
    xTitle: <><Etmiss /> [GeV]</>, xTitleX: 205, yTitle: "Events / 50 GeV", dashedOne: false,
  },
  {
    key: "pt", ...ROW1, ...COLR,
    edges: ptEdges, stack: [ptTop, ptDib, ptZll, ptWev, ptWmv, ptWtv, ptZvv], counts: ptCounts, ratio: ptRatio, band: ptBand,
    signals: [ptSbottom, ptDM, ptADD], log: true, yDomain: LOGDOM_12, yTicks: LOG_TICKS_7, yMinor: logMinor(LOGDOM_12[0], LOGDOM_12[1]),
    xDomain: [250, 1500], xTicks: PT_X_TICKS, xMinor: linMinor(280, 1480, 40), xShift: 0,
    xTitle: <>Leading jet p<Sub>T</Sub> [GeV]</>, xTitleX: 593, yTitle: "Events / 50 GeV", dashedOne: false,
  },
  {
    key: "eta", ...ROW2, ...COLL,
    edges: etaEdges, stack: [etaTop, etaDib, etaZll, etaWev, etaWmv, etaWtv, etaZvv], counts: etaCounts, ratio: etaRatio, band: etaBand,
    signals: [etaSbottom, etaDM, etaADD], log: false, yDomain: [0, 8000], yTicks: ETA_Y_TICKS, yMinor: linMinor(0, 8000, 200),
    xDomain: [-4, 4], xTicks: ETA_X_TICKS, xMinor: linMinor(-4, 4, 0.2), xShift: 4,
    xTitle: <>Leading jet {"\u03b7"}</>, xTitleX: 202, yTitle: "Events", dashedOne: true,
  },
  {
    key: "nj", ...ROW2, ...COLR,
    edges: njEdges, stack: [njTop, njDib, njZll, njWev, njWmv, njWtv, njZvv], counts: njCounts, ratio: njRatio, band: njBand,
    signals: [njSbottom, njDM, njADD], log: false, yDomain: [0, 16000], yTicks: NJ_Y_TICKS, yMinor: linMinor(0, 16000, 400),
    xDomain: [-0.5, 9.5], xTicks: NJ_X_TICKS, xMinor: linMinor(-0.5, 9.5, 0.5), xShift: 0.5,
    xTitle: "Number of jets", xTitleX: 598, yTitle: "Events", dashedOne: true,
  },
  {
    key: "j2", ...ROW3, ...COLL,
    edges: j2Edges, stack: [j2Top, j2Dib, j2Zll, j2Wev, j2Wmv, j2Wtv, j2Zvv], counts: j2Counts, ratio: j2Ratio, band: j2Band,
    signals: [j2Sbottom, j2DM, j2ADD], log: true, yDomain: LOGDOM_5, yTicks: LOG_TICKS_8, yMinor: logMinor(LOGDOM_5[0], LOGDOM_5[1]),
    xDomain: [0, 1000], xTicks: J2_X_TICKS, xMinor: linMinor(0, 1000, 20), xShift: 0,
    xTitle: <>Second leading jet p<Sub>T</Sub> [GeV]</>, xTitleX: 209, yTitle: "Events/ 50 GeV", dashedOne: false,
  },
  {
    key: "j3", ...ROW3, ...COLR,
    edges: j3Edges, stack: [j3Top, j3Dib, j3Zll, j3Wev, j3Wmv, j3Wtv, j3Zvv], counts: j3Counts, ratio: j3Ratio, band: j3Band,
    signals: [j3Sbottom, j3DM, j3ADD], log: true, yDomain: LOGDOM_6, yTicks: LOG_TICKS_7, yMinor: logMinor(LOGDOM_6[0], LOGDOM_6[1]),
    xDomain: [0, 900], xTicks: J3_X_TICKS, xMinor: linMinor(0, 900, 20), xShift: 0,
    xTitle: <>Third leading jet p<Sub>T</Sub> [GeV]</>, xTitleX: 595, yTitle: "Events/ 50 GeV", dashedOne: false,
  },
];

export default function App() {
  return (
    <div style={{ position: "absolute", left: 0, top: 0, width: 755, height: 827, background: "#fff", overflow: "hidden", fontFamily: FONT }}>
      {PANELS.map((s) => (
        <Panel key={s.key} s={s} />
      ))}
    </div>
  );
}
